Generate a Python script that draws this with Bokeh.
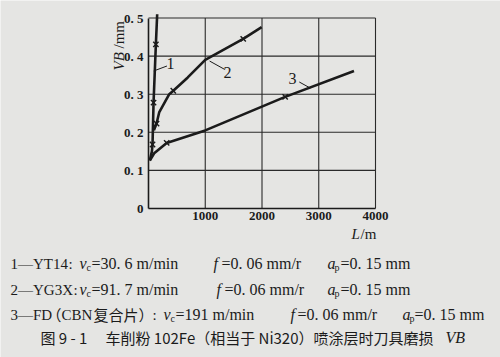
from bokeh.plotting import figure
from bokeh.models import Range1d, Label, FixedTicker, CustomJSTickFormatter
from bokeh.embed import file_html
from bokeh.resources import INLINE
import math

# ---------------- data ----------------
c1_L = [23, 60, 71, 89, 130, 153]
c1_VB = [0.126, 0.15, 0.168, 0.278, 0.431, 0.51]
c1_mark_L = [71, 89, 130]
c1_mark_VB = [0.168, 0.278, 0.431]

c2_L = [95, 142, 188, 366, 437, 692, 1000, 1669, 1994]
c2_VB = [0.205, 0.223, 0.252, 0.300, 0.309, 0.344, 0.390, 0.445, 0.476]
c2_mark_L = [142, 437, 1669]
c2_mark_VB = [0.223, 0.309, 0.445]

c3_L = [23, 100, 320, 1000, 2408, 3621]
c3_VB = [0.126, 0.145, 0.172, 0.205, 0.293, 0.361]
c3_mark_L = [320, 2408]
c3_mark_VB = [0.172, 0.293]

x_ticks = [1000, 2000, 3000, 4000]
y_ticks = [0, 0.1, 0.2, 0.3, 0.4, 0.5]
y_tick_labels = ["0", "0. 1", "0. 2", "0. 3", "0. 4", "0. 5"]

curve_names = ["1", "2", "3"]

# legend pieces: (text, kind)  n=serif, i=italic, s=subscript, k=CJK
legend_line1 = [("1—YT14", "n"), (":", "n"), ("v", "i"), ("c", "s"), ("=30. 6 m/min", "n"),
                ("f", "i"), ("=0. 06 mm/r", "n"), ("a", "i"), ("p", "s"), ("=0. 15 mm", "n")]
legend_line2 = [("2—YG3X", "n"), (":", "n"), ("v", "i"), ("c", "s"), ("=91. 7 m/min", "n"),
                ("f", "i"), ("=0. 06 mm/r", "n"), ("a", "i"), ("p", "s"), ("=0. 15 mm", "n")]
legend_line3 = [("3—FD", "n"), ("（", "k"), ("CBN", "n"), ("复合片", "k"), ("）", "k"), (":", "n"),
                ("v", "i"), ("c", "s"), ("=191 m/min", "n"),
                ("f", "i"), ("=0. 06 mm/r", "n"), ("a", "i"), ("p", "s"), ("=0. 15 mm", "n")]
caption_parts = ["图 9 - 1", "车削粉 102Fe（相当于 Ni320）喷涂层时刀具磨损", "VB"]

# ---------------- layout helpers (pixel -> data) ----------------
W, H = 500, 357
PX0, PX4000 = 148, 375      # pixel columns of L=0 and L=4000
PY0, PY05 = 208, 17.5       # pixel rows of VB=0 and VB=0.5


def X(px):
    return (px - PX0) * 4000 / (PX4000 - PX0)


def Y(py):
    return (PY0 - py) * 0.5 / (PY0 - PY05)


BG = "#e5e5e3"
INK = "#1b1b1b"
SERIF = "Liberation Serif"
CJK = "Noto Sans CJK SC"

p = figure(width=W, height=H, x_range=Range1d(X(0), X(W)), y_range=Range1d(Y(H), Y(0)),
           output_backend="svg", toolbar_location=None,
           min_border_left=0, min_border_right=0, min_border_top=0, min_border_bottom=0)
p.background_fill_color = BG
p.border_fill_color = BG
p.outline_line_color = None
p.grid.visible = False

# axes placed at L=0 / VB=0 inside the canvas
p.xaxis.ticker = FixedTicker(ticks=x_ticks)
p.yaxis.ticker = FixedTicker(ticks=y_ticks)
p.yaxis.formatter = CustomJSTickFormatter(
    args=dict(tv=y_ticks, tl=y_tick_labels),
    code="""
      for (let i = 0; i < tv.length; i++) {
        if (Math.abs(tv[i] - tick) < 1e-9) return tl[i];
      }
      return '';
    """)
p.xaxis.fixed_location = 0
p.yaxis.fixed_location = 0
p.xaxis.bounds = (0, x_ticks[-1])
p.yaxis.bounds = (0, y_ticks[-1])
for ax in (p.xaxis, p.yaxis):
    ax.axis_line_color = INK
    ax.axis_line_width = 1.6
    ax.major_tick_in = 0
    ax.major_tick_out = 0
    ax.minor_tick_in = 0
    ax.minor_tick_out = 0
    ax.major_label_text_font = SERIF
    ax.major_label_text_font_style = "bold"
    ax.major_label_text_font_size = "13px"
    ax.major_label_text_color = INK
p.xaxis.major_label_standoff = 3
p.yaxis.major_label_standoff = 5

# grid (including the box at 0.5 and 4000)
p.segment(x0=x_ticks, y0=[0] * len(x_ticks), x1=x_ticks, y1=[y_ticks[-1]] * len(x_ticks),
          line_color="#2a2a2a", line_width=1.1)
gy = y_ticks[1:]
p.segment(x0=[0] * len(gy), y0=gy, x1=[x_ticks[-1]] * len(gy), y1=gy,
          line_color="#2a2a2a", line_width=1.1)

# curves
for Ls, Vs, mL, mV in [(c1_L, c1_VB, c1_mark_L, c1_mark_VB),
                        (c2_L, c2_VB, c2_mark_L, c2_mark_VB),
                        (c3_L, c3_VB, c3_mark_L, c3_mark_VB)]:
    p.line(Ls, Vs, line_color=INK, line_width=2.6, line_join="round")
    p.scatter(mL, mV, marker="x", size=7.5, line_color=INK, line_width=1.4)

# curve name leaders and numbers
lead = [((92, 0.361), (325, 0.374), (170, 63)),
        ((1077, 0.387), (1343, 0.365), (227, 72)),
        ((2657, 0.332), (2852, 0.316), (292, 78))]
for name, (a, b, (lx, ly)) in zip(curve_names, lead):
    p.segment(x0=[a[0]], y0=[a[1]], x1=[b[0]], y1=[b[1]], line_color=INK, line_width=1)
    p.add_layout(Label(x=X(lx), y=Y(ly), text=name, text_font=SERIF, text_font_size="16px",
                       text_color=INK, text_align="center", text_baseline="middle"))


def lab(px, py, text, size="15px", style="normal", font=SERIF, angle=0.0, align="left"):
    p.add_layout(Label(x=X(px), y=Y(py), text=text, angle=angle, text_font=font,
                       text_font_style=style, text_font_size=size, text_color=INK,
                       text_align=align, text_baseline="middle"))


# axis titles
lab(118, 70, "VB", style="italic", angle=math.pi / 2)
lab(118, 48, "/mm", angle=math.pi / 2)
lab(351, 233, "L", style="italic")
lab(360, 233, "/m")

# legend text lines
line_y = [263, 289, 314]
piece_x = [
    [10, 68, 79, 86, 91, 213, 221, 327, 334, 340],
    [10, 73, 79, 86, 91, 216, 224, 327, 334, 340],
    [10, 46, 61, 93, 138, 152, 163, 170, 175, 290, 297, 402, 409, 414],
]
for parts, xs, ly in zip([legend_line1, legend_line2, legend_line3], piece_x, line_y):
    for (txt, kind), px in zip(parts, xs):
        if kind == "s":
            lab(px, ly + 4, txt, size="10px")
        elif kind == "k":
            lab(px, ly, txt, size="15px", font=CJK)
        elif kind == "i":
            lab(px, ly, txt, size="16px", style="italic")
        elif px == xs[0] or txt == ":" or txt == "CBN":
            lab(px, ly, txt, size="15px")
        else:
            lab(px, ly, txt, size="16px")

# caption
cy = 337
lab(40, cy, caption_parts[0], font=CJK)
lab(105, cy, caption_parts[1], font=CJK)
lab(445, cy, caption_parts[2], size="16px", style="italic")

open("out.html", "w").write(file_html(p, INLINE))
